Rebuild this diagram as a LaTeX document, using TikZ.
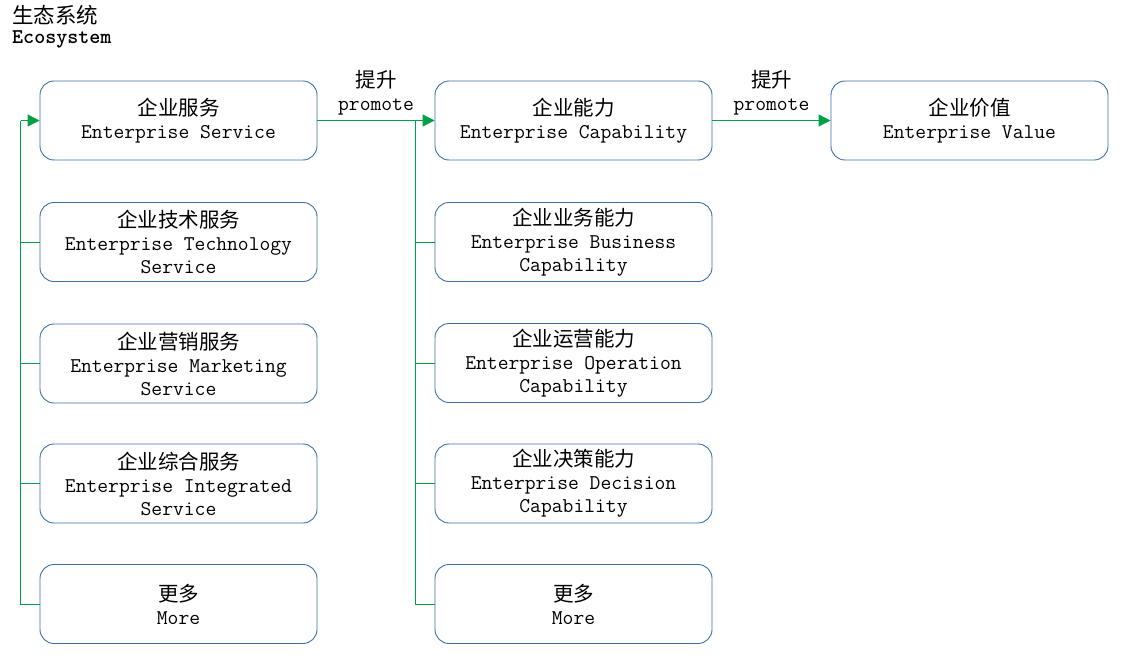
\documentclass[tikz,border=0pt]{standalone}
\usepackage{fontspec}
\newfontfamily\cjk{Noto Sans CJK SC}
\usetikzlibrary{arrows.meta,calc}
\definecolor{boxblue}{RGB}{60,110,170}
\definecolor{lgreen}{RGB}{0,160,70}
\newcommand\twol[2]{{\cjk\fontsize{20.5}{23}\selectfont #1}\\#2}
\begin{document}
\begin{tikzpicture}[x=1pt,y=-1pt,
  txt/.style={align=center, inner sep=0pt, font=\ttfamily\fontsize{21}{23}\selectfont},
  box/.style={txt, draw=boxblue, line width=0.9pt, rounded corners=14pt, minimum width=277pt, minimum height=79pt},
  conn/.style={draw=lgreen, line width=1pt},
  arr/.style={conn, -{Triangle[length=12pt,width=12pt]}}]
\useasboundingbox (0,0) rectangle (1123,661);
% title
\node[txt, anchor=west] (tcn) at (12,15) {\cjk\fontsize{21.5}{23}\selectfont 生态系统};
\node[txt, anchor=west] (ten) at (12,39) {\bfseries Ecosystem};
% column 1
\node[box] (s1) at (178.5,120.5) {\twol{企业服务}{Enterprise Service}};
\node[box] (s2) at (178.5,242) {\twol{企业技术服务}{Enterprise Technology\\Service}};
\node[box] (s3) at (178.5,363.5) {\twol{企业营销服务}{Enterprise Marketing\\Service}};
\node[box] (s4) at (178.5,483.5) {\twol{企业综合服务}{Enterprise Integrated\\Service}};
\node[box] (s5) at (178.5,604) {\twol{更多}{More}};
% column 2
\node[box] (c1) at (573.5,120.5) {\twol{企业能力}{Enterprise Capability}};
\node[box] (c2) at (573.5,242) {\twol{企业业务能力}{Enterprise Business\\Capability}};
\node[box] (c3) at (573.5,363) {\twol{企业运营能力}{Enterprise Operation\\Capability}};
\node[box] (c4) at (573.5,483.5) {\twol{企业决策能力}{Enterprise Decision\\Capability}};
\node[box] (c5) at (573.5,604) {\twol{更多}{More}};
% column 3
\node[box] (v1) at (969.5,120.5) {\twol{企业价值}{Enterprise Value}};
% left trunk
\draw[conn] (s5.west) -- ++(-19,0) coordinate (lj) -- (lj |- s1.west);
\draw[arr] (lj |- s1.west) -- (s1.west);
\foreach \n in {s2,s3,s4} \draw[conn] (\n.west) -- (lj |- \n.west);
% middle trunk
\draw[arr] (s1.east) -- (c1.west);
\draw[conn] (c5.west) -- ++(-19,0) coordinate (mj) -- (mj |- c1.west);
\foreach \n in {c2,c3,c4} \draw[conn] (\n.west) -- (mj |- \n.west);
% to value
\draw[arr] (c1.east) -- (v1.west);
% labels
\node[txt, anchor=south] (p1) at ($(s1.east)!0.5!(c1.west)+(0,-5)$) {\twol{提升}{promote}};
\node[txt, anchor=south] (p2) at ($(c1.east)!0.5!(v1.west)+(0,-5)$) {\twol{提升}{promote}};
\end{tikzpicture}
\end{document}
